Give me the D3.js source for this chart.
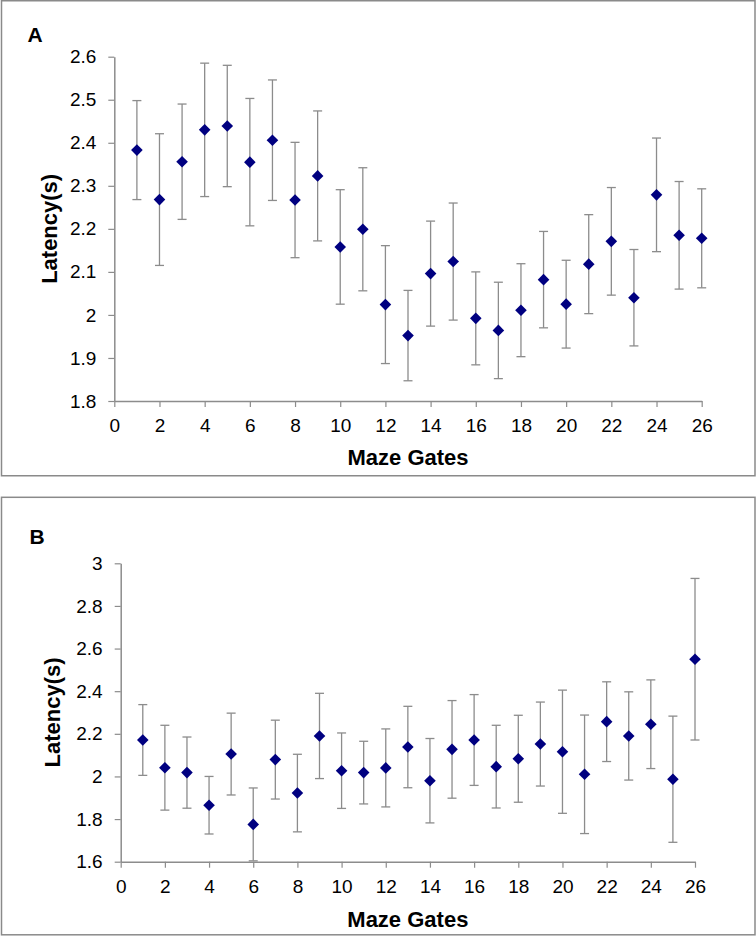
<!DOCTYPE html>
<html>
<head>
<meta charset="utf-8">
<script src="https://cdn.jsdelivr.net/npm/d3@7"></script>
<style>
  html, body { margin: 0; padding: 0; background: #fff; }
  svg text { font-family: "Liberation Sans", Arial, sans-serif; }
</style>
</head>
<body>
<svg id="chart" width="756" height="936"></svg>
<script>
// ---- Data ----
const gates = d3.range(1, 27);

const meanA = [2.383, 2.268, 2.356, 2.430, 2.439, 2.355, 2.406, 2.267, 2.323, 2.158,
               2.199, 2.024, 1.952, 2.096, 2.124, 1.992, 1.964, 2.011, 2.082, 2.025,
               2.118, 2.171, 2.040, 2.279, 2.185, 2.178];
const errA  = [0.115, 0.153, 0.134, 0.155, 0.141, 0.148, 0.140, 0.134, 0.151, 0.133,
               0.143, 0.137, 0.105, 0.122, 0.136, 0.108, 0.112, 0.108, 0.112, 0.102,
               0.115, 0.125, 0.112, 0.132, 0.125, 0.115];

const meanB = [2.171, 2.041, 2.018, 1.865, 2.105, 1.775, 2.079, 1.922, 2.190, 2.027,
               2.018, 2.040, 2.138, 1.980, 2.127, 2.171, 2.046, 2.083, 2.152, 2.116,
               2.010, 2.257, 2.190, 2.245, 1.987, 2.550];
const errB  = [0.166, 0.199, 0.167, 0.135, 0.192, 0.171, 0.185, 0.182, 0.200, 0.177,
               0.147, 0.183, 0.191, 0.198, 0.229, 0.213, 0.194, 0.204, 0.197, 0.289,
               0.278, 0.187, 0.207, 0.208, 0.296, 0.379];

const xTicks  = d3.range(0, 27, 2);
const yTicksA = [1.8, 1.9, 2.0, 2.1, 2.2, 2.3, 2.4, 2.5, 2.6];
const yTicksB = [1.6, 1.8, 2.0, 2.2, 2.4, 2.6, 2.8, 3.0];

const xTitle = "Maze Gates";
const yTitle = "Latency(s)";

// ---- Drawing ----
const svg = d3.select("#chart");
const axisColor = "#8c8c8c";

function panel(cfg) {
  const g = svg.append("g");
  // frame
  g.append("rect")
    .attr("x", cfg.frame[0]).attr("y", cfg.frame[1])
    .attr("width", cfg.frame[2]).attr("height", cfg.frame[3])
    .attr("fill", "#fff").attr("stroke", "#8a8a8a").attr("stroke-width", 1.5);

  const x = d3.scaleLinear().domain([0, 26]).range([cfg.left, cfg.right]);
  const y = d3.scaleLinear().domain(cfg.yDomain).range([cfg.bottom, cfg.top]);

  const yAxis = d3.axisLeft(y).tickValues(cfg.yTicks)
    .tickFormat(d => d3.format("")(+d.toFixed(1)))
    .tickSize(6).tickSizeOuter(0).tickPadding(12);
  const xAxis = d3.axisBottom(x).tickValues(xTicks)
    .tickSize(6).tickSizeOuter(0).tickPadding(11.5);

  const gy = g.append("g").attr("transform", `translate(${cfg.left},0)`).call(yAxis);
  const gx = g.append("g").attr("transform", `translate(0,${cfg.bottom})`).call(xAxis);
  [gx, gy].forEach(a => {
    a.select(".domain").attr("stroke", axisColor).attr("stroke-width", 1.5);
    a.selectAll(".tick line").attr("stroke", axisColor).attr("stroke-width", 1.2);
    a.selectAll(".tick text").attr("fill", "#000").style("font-size", "19px")
      .style("font-family", '"Liberation Sans", Arial, sans-serif');
  });

  // error bars
  const eb = g.append("g").attr("stroke", "#8c8c8c").attr("stroke-width", 1.3).attr("fill", "none");
  gates.forEach((gate, i) => {
    const cx = x(gate);
    const y1 = y(cfg.mean[i] + cfg.err[i]);
    const y0 = y(cfg.mean[i] - cfg.err[i]);
    eb.append("line").attr("x1", cx).attr("x2", cx).attr("y1", y1).attr("y2", y0);
    eb.append("line").attr("x1", cx - 4.5).attr("x2", cx + 4.5).attr("y1", y1).attr("y2", y1);
    eb.append("line").attr("x1", cx - 4.5).attr("x2", cx + 4.5).attr("y1", y0).attr("y2", y0);
  });

  // markers
  const r = 5.8;
  g.append("g").selectAll("path").data(gates).join("path")
    .attr("d", (gate, i) => {
      const cx = x(gate), cy = y(cfg.mean[i]);
      return `M${cx},${cy - r}L${cx + r},${cy}L${cx},${cy + r}L${cx - r},${cy}Z`;
    })
    .attr("fill", "#000080");

  // panel letter
  g.append("text").attr("x", cfg.letterPos[0]).attr("y", cfg.letterPos[1])
    .style("font-size", "21px").style("font-weight", "bold").text(cfg.letter);

  // axis titles
  g.append("text")
    .attr("x", (cfg.left + cfg.right) / 2).attr("y", cfg.xTitleY)
    .attr("text-anchor", "middle")
    .style("font-size", "22px").style("font-weight", "bold").text(xTitle);
  g.append("text")
    .attr("transform", `translate(${cfg.yTitleX},${(cfg.top + cfg.bottom) / 2}) rotate(-90)`)
    .attr("text-anchor", "middle")
    .style("font-size", "22px").style("font-weight", "bold").text(yTitle);
}

panel({
  frame: [1.5, 0.75, 753.5, 475],
  left: 114.3, right: 701.7, top: 56.7, bottom: 401,
  yDomain: [1.8, 2.6], yTicks: yTicksA,
  mean: meanA, err: errA,
  letter: "A", letterPos: [27.5, 41.5],
  xTitleY: 465, yTitleX: 56.5
});

panel({
  frame: [1.5, 497.3, 753.5, 437.5],
  left: 120.7, right: 695, top: 563.3, bottom: 861.7,
  yDomain: [1.6, 3.0], yTicks: yTicksB,
  mean: meanB, err: errB,
  letter: "B", letterPos: [29.5, 544],
  xTitleY: 926.5, yTitleX: 60
});
</script>
</body>
</html>
